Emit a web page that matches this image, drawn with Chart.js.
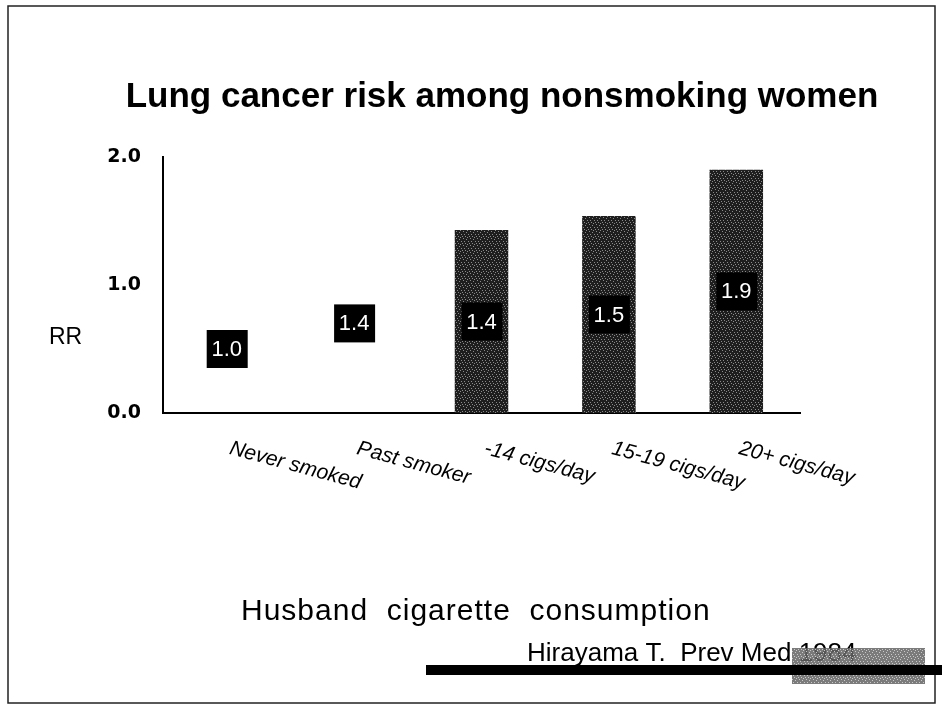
<!DOCTYPE html>
<html>
<head>
<meta charset="utf-8">
<script src="https://cdn.jsdelivr.net/npm/chart.js@4/dist/chart.umd.min.js"></script>
<style>
  body { margin: 0; background: #fff; }
  #wrap { width: 942px; height: 709px; }
</style>
</head>
<body>
<div id="wrap"><canvas id="chart" width="942" height="709"></canvas></div>
<script>
// husband's smoking category and relative risk
const categories = ["Never smoked", "Past smoker", "-14 cigs/day", "15-19 cigs/day", "20+ cigs/day"];
const rrValues = [1.0, 1.4, 1.43, 1.54, 1.9];
const yTicks = [0, 1, 2];

const titleText = "Lung cancer risk among nonsmoking women";
const axisText = "RR";
const footText = "Husband  cigarette  consumption";
const sourceText = "Hirayama T.  Prev Med 1984";

const canvas = document.getElementById("chart");
const ctx = canvas.getContext("2d");

// dark speckled fill like the scanned bars
const makeSpeckle = (base, dot) => {
    const c = document.createElement("canvas");
    c.width = 7;
    c.height = 7;
    const g = c.getContext("2d");
    g.fillStyle = base;
    g.fillRect(0, 0, 7, 7);
    g.fillStyle = dot;
    [[1, 0], [4, 1], [6, 3], [2, 3], [0, 5], [5, 6], [3, 5]].forEach(([x, y]) => g.fillRect(x, y, 1, 1));
    return ctx.createPattern(c, "repeat");
};
const barFill = makeSpeckle("#1e1e1e", "#8a8a8a");
const greyFill = makeSpeckle("rgba(100,100,100,0.85)", "rgba(210,210,210,0.9)");
// the first two bars are blank on the slide
const barColors = ["rgba(0,0,0,0)", "rgba(0,0,0,0)", barFill, barFill, barFill];

const valueBoxes = {
    id: "valueBoxes",
    afterDatasetsDraw(chart) {
        const c = chart.ctx;
        const meta = chart.getDatasetMeta(0);
        c.save();
        c.font = "22px 'Liberation Sans', Arial, sans-serif";
        c.textAlign = "center";
        c.textBaseline = "middle";
        meta.data.forEach((bar, i) => {
            const cy = (bar.y + bar.base) / 2;
            c.fillStyle = "#000";
            c.fillRect(bar.x - 20, cy - 19, 41, 38);
            c.fillStyle = "#fff";
            c.fillText(rrValues[i].toFixed(1), bar.x, cy + 1);
        });
        c.restore();
    }
};

const slideText = {
    id: "slideText",
    afterDraw(chart) {
        const c = chart.ctx;
        const xScale = chart.scales.x;
        c.save();
        // slide frame
        c.strokeStyle = "#222";
        c.lineWidth = 1.5;
        c.strokeRect(8, 6, 927, 697);

        c.fillStyle = "#000";
        c.font = "bold 35px 'Liberation Sans', Arial, sans-serif";
        c.textAlign = "center";
        c.textBaseline = "alphabetic";
        c.fillText(titleText, 502, 107);

        c.textAlign = "left";
        c.font = "23px 'Liberation Sans', Arial, sans-serif";
        c.fillText(axisText, 49, 344);

        // slanted category labels
        c.font = "italic 21px 'Liberation Sans', Arial, sans-serif";
        c.textBaseline = "top";
        categories.forEach((cat, i) => {
            const x = xScale.getPixelForValue(i);
            c.save();
            c.translate(x + 6, 438);
            c.rotate(15 * Math.PI / 180);
            c.fillText(cat, 0, 0);
            c.restore();
        });

        c.textBaseline = "alphabetic";
        c.font = "30px 'Liberation Sans', Arial, sans-serif";
        c.letterSpacing = "1px";
        c.fillText(footText, 241, 620);
        c.letterSpacing = "0px";

        c.font = "26px 'Liberation Sans', Arial, sans-serif";
        c.fillText(sourceText, 527, 661);

        c.fillStyle = "#000";
        c.fillRect(426, 665, 516, 10);
        c.fillStyle = greyFill;
        c.fillRect(792, 648, 133, 17);
        c.fillRect(792, 675, 133, 9);
        c.restore();
    }
};

new Chart(ctx, {
    type: "bar",
    data: {
        labels: categories,
        datasets: [{
            data: rrValues,
            backgroundColor: barColors,
            borderWidth: 0,
            barPercentage: 0.42,
            categoryPercentage: 1.0
        }]
    },
    options: {
        responsive: false,
        animation: false,
        events: [],
        layout: { padding: { top: 157, right: 142, bottom: 0, left: 0 } },
        plugins: {
            legend: { display: false },
            tooltip: { enabled: false }
        },
        scales: {
            x: {
                grid: { display: false },
                border: { display: true, color: "#000", width: 2 },
                ticks: { display: false },
                afterFit(scale) { scale.height = 709 - 413; }
            },
            y: {
                min: 0,
                max: 2,
                afterBuildTicks(scale) { scale.ticks = yTicks.map(v => ({ value: v })); },
                grid: { display: false },
                border: { display: true, color: "#000", width: 2 },
                ticks: {
                    color: "#000",
                    padding: 14,
                    font: { family: "'DejaVu Sans'", weight: "bold", size: 19 },
                    callback: v => v.toFixed(1)
                },
                afterFit(scale) { scale.width = 163; }
            }
        }
    },
    plugins: [valueBoxes, slideText]
});
</script>
</body>
</html>
